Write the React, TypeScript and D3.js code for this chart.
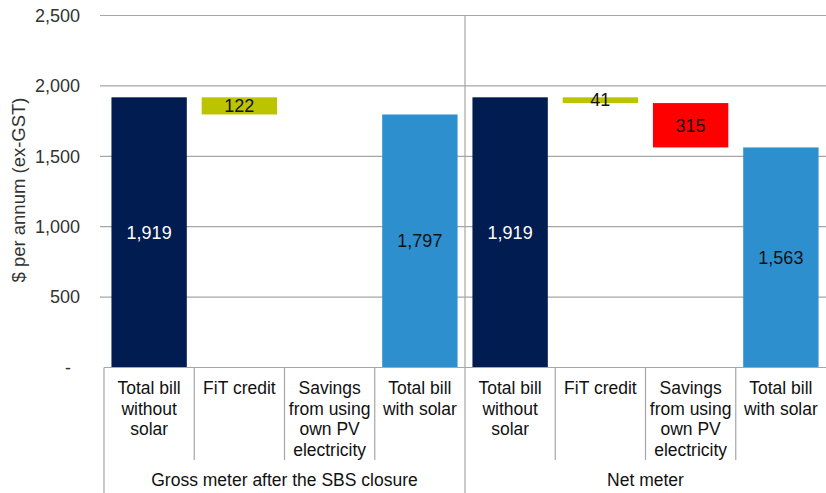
import * as d3 from 'd3'
import { useEffect, useRef } from 'react'

const groups = ['Gross meter after the SBS closure', 'Net meter']
const categories = [
  ['Total bill', 'without', 'solar'],
  ['FiT credit'],
  ['Savings', 'from using', 'own PV', 'electricity'],
  ['Total bill', 'with solar'],
]
// [total without solar, FiT credit, own-use savings, total with solar]
const grossValues = [1919, 122, 0, 1797]
const netValues = [1919, 41, 315, 1563]
const yTicks = [0, 500, 1000, 1500, 2000, 2500]

const colors = ['#001c50', '#bcc400', '#ff0000', '#2e8fcf']
const labelColors = ['#ffffff', '#111111', '#111111', '#111111']

export default function App() {
  const svgRef = useRef<SVGSVGElement>(null)

  useEffect(() => {
    if (!svgRef.current) return
    document.body.style.margin = '0'
    d3.select(svgRef.current).selectAll('*').remove()

    const width = 826
    const height = 493
    const margin = { top: 15.5, left: 104, right: 0, bottom: 125.5 }
    const svg = d3.select(svgRef.current).attr('width', width).attr('height', height)
    const font = "'Liberation Sans', Arial, sans-serif"

    const y = d3
      .scaleLinear()
      .domain([0, 2500])
      .range([height - margin.bottom, margin.top])

    const keys = groups.flatMap((g, gi) => categories.map((_, ci) => `${gi}-${ci}`))
    const x = d3
      .scaleBand()
      .domain(keys)
      .range([margin.left, width - margin.right])
      .padding(0)

    const barW = x.bandwidth() * 0.835

    // Gridlines
    svg
      .append('g')
      .selectAll('line')
      .data(yTicks.slice(1))
      .enter()
      .append('line')
      .attr('x1', margin.left - 4)
      .attr('x2', width)
      .attr('y1', d => y(d))
      .attr('y2', d => y(d))
      .attr('stroke', '#a6a6a6')
      .attr('stroke-width', 1.2)

    // Tick labels
    svg
      .append('g')
      .selectAll('text')
      .data(yTicks)
      .enter()
      .append('text')
      .attr('x', d => (d === 0 ? 71 : 80))
      .attr('y', d => y(d))
      .attr('dy', '0.35em')
      .attr('text-anchor', 'end')
      .style('font-family', font)
      .style('font-size', '18px')
      .style('fill', '#333')
      .text(d => (d === 0 ? '-' : d3.format(',')(d)))

    // Y axis title
    svg
      .append('text')
      .attr('transform', `translate(19,190) rotate(-90)`)
      .attr('text-anchor', 'middle')
      .attr('dy', '0.35em')
      .style('font-family', font)
      .style('font-size', '18.5px')
      .style('fill', '#333')
      .text('$ per annum (ex-GST)')

    // Waterfall bars
    const bars: { key: string; lo: number; hi: number; value: number; ci: number }[] = []
    ;[grossValues, netValues].forEach((vals, gi) => {
      const start = vals[0]
      bars.push({ key: `${gi}-0`, lo: 0, hi: start, value: start, ci: 0 })
      let level = start
      ;[1, 2].forEach(ci => {
        const v = vals[ci]
        if (v > 0) bars.push({ key: `${gi}-${ci}`, lo: level - v, hi: level, value: v, ci })
        level -= v
      })
      bars.push({ key: `${gi}-3`, lo: 0, hi: vals[3], value: vals[3], ci: 3 })
    })

    const bg = svg.append('g')
    bg.selectAll('rect')
      .data(bars)
      .enter()
      .append('rect')
      .attr('x', d => x(d.key)! + (x.bandwidth() - barW) / 2)
      .attr('y', d => y(d.hi))
      .attr('width', barW)
      .attr('height', d => y(d.lo) - y(d.hi))
      .attr('fill', d => colors[d.ci])

    bg.selectAll('text')
      .data(bars)
      .enter()
      .append('text')
      .attr('x', d => x(d.key)! + x.bandwidth() / 2)
      .attr('y', d => y((d.lo + d.hi) / 2))
      .attr('dy', '0.35em')
      .attr('text-anchor', 'middle')
      .style('font-family', font)
      .style('font-size', '18px')
      .style('fill', d => labelColors[d.ci])
      .text(d => d3.format(',')(d.value))

    // Category label box
    const baseY = y(0)
    const lines = svg.append('g').attr('stroke', '#a6a6a6').attr('stroke-width', 1.2)
    lines
      .append('line')
      .attr('x1', margin.left)
      .attr('x2', width)
      .attr('y1', baseY)
      .attr('y2', baseY)
    lines
      .append('line')
      .attr('x1', margin.left)
      .attr('x2', margin.left)
      .attr('y1', baseY)
      .attr('y2', height)
    keys.forEach((k, i) => {
      if (i === 0) return
      const xx = x(k)!
      const isGroup = i % categories.length === 0
      lines
        .append('line')
        .attr('x1', xx)
        .attr('x2', xx)
        .attr('y1', isGroup ? margin.top : baseY)
        .attr('y2', isGroup ? height : 460)
    })

    const lg = svg.append('g')
    keys.forEach((k, i) => {
      const cat = categories[i % categories.length]
      const t = lg
        .append('text')
        .attr('text-anchor', 'middle')
        .style('font-family', font)
        .style('font-size', '17.5px')
        .style('fill', '#111')
      cat.forEach((line, li) => {
        t.append('tspan')
          .attr('x', x(k)! + x.bandwidth() / 2)
          .attr('y', 394 + li * 20.5)
          .text(line)
      })
    })

    groups.forEach((g, gi) => {
      const first = x(`${gi}-0`)!
      const last = x(`${gi}-${categories.length - 1}`)! + x.bandwidth()
      lg.append('text')
        .attr('x', (first + last) / 2)
        .attr('y', 486)
        .attr('text-anchor', 'middle')
        .style('font-family', font)
        .style('font-size', '17.5px')
        .style('fill', '#111')
        .text(g)
    })
  }, [])

  return <svg ref={svgRef}></svg>
}
